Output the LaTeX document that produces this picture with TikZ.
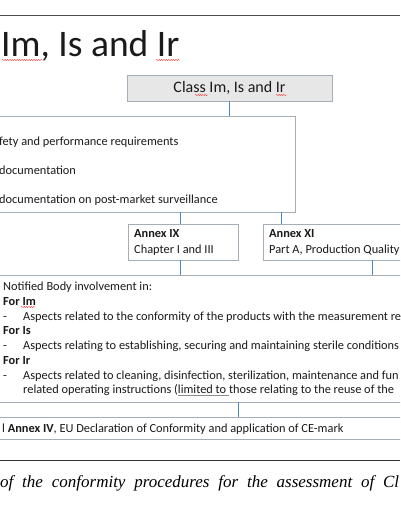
\documentclass[tikz,border=0pt]{standalone}
\usepackage{fontspec}
\setmainfont{Carlito}
\newfontfamily\capfont{Liberation Serif}
\usetikzlibrary{decorations.pathmorphing}
\definecolor{boxline}{HTML}{A5AEB8}
\definecolor{conn}{HTML}{4A86C8}
\definecolor{classfill}{HTML}{E7E7E7}
\definecolor{txtc}{HTML}{1A1A1A}
\begin{document}
\begin{tikzpicture}[x=1pt,y=-1pt,
  box/.style={draw=boxline,line width=0.9pt,inner sep=0pt},
  txt/.style={anchor=base west,inner sep=0pt,text=txtc,font=\fontsize{12.35}{14}\selectfont},
  btxt/.style={txt,font=\fontsize{12.35}{14}\selectfont\bfseries},
  link/.style={draw=conn,line width=1pt},
  spell/.style={draw=red!80,line width=0.4pt,decorate,decoration={snake,amplitude=0.6pt,segment length=2.4pt}}]
\useasboundingbox (0,0) rectangle (400,516);
\clip (0,0) rectangle (400,516);
\fill[white] (0,0) rectangle (400,516);
\draw[black!70,line width=0.8pt] (0,15) -- (400,15);
% title
\node[anchor=base west,inner sep=0pt,font=\fontsize{37.5}{40}\selectfont,text=txtc] (title) at (1,57) {Im, Is and Ir};
\draw[spell] (2,60) -- (42,60);
\draw[spell] (156,60) -- (180,60);
% class box
\node[box,fill=classfill,minimum width=205pt,minimum height=26pt,font=\fontsize{16}{18}\selectfont,text=txtc] (class) at (229.5,88) {Class Im, Is and Ir};
\draw[spell] (195,95) -- (208,95);
\draw[spell] (276,95) -- (287,95);
% requirements box
\node[box,minimum width=315pt,minimum height=96pt] (req) at (137.5,164) {};
\node[txt] (r1) at (-1,145) {fety and performance requirements};
\node[txt] (r2) at (-1,174) {documentation};
\node[txt] (r3) at (-1,203) {documentation on post-market surveillance};
% annex boxes
\node[box,minimum width=110pt,minimum height=36pt] (ix) at (183,242) {};
\node[btxt] (ixa) at (134,237) {Annex IX};
\node[txt] (ixb) at (134,253) {Chapter I and III};
\node[box,minimum width=157pt,minimum height=36pt] (xi) at (341.5,242) {};
\node[btxt] (xia) at (269,237) {Annex XI};
\node[txt] (xib) at (269,253) {Part A, Production Quality};
% notified body box
\node[box,minimum width=440pt,minimum height=127pt] (nb) at (200,338.5) {};
\node[txt] (n1) at (3,290) {Notified Body involvement in:};
\node[btxt] (n2) at (3,305) {For Im};
\node[txt] (n3d) at (3,320) {-};
\node[txt] (n3) at (23,320) {Aspects related to the conformity of the products with the measurement re};
\node[btxt] (n4) at (3,334) {For Is};
\node[txt] (n5d) at (3,349) {-};
\node[txt] (n5) at (23,349) {Aspects relating to establishing, securing and maintaining sterile conditions};
\node[btxt] (n6) at (3,364) {For Ir};
\node[txt] (n7d) at (3,379) {-};
\node[txt] (n7) at (23,379) {Aspects related to cleaning, disinfection, sterilization, maintenance and fun};
\node[txt] (n8) at (23,393) {related operating instructions (limited to those relating to the reuse of the};
\draw[spell] (21,307) -- (35,307);
\draw[black!45,line width=0.5pt] (178,395.5) -- (229,395.5);
% annex IV box
\node[box,minimum width=440pt,minimum height=22pt] (iv) at (200,428) {};
\node[txt] (iva) at (2,432) {l \textbf{Annex IV}, EU Declaration of Conformity and application of CE-mark};
% connectors
\draw[link] (class.south) -- (class.south |- req.north);
\draw[link] ([xshift=-3pt]ix.north) -- ([xshift=-3pt]ix.north |- req.south);
\draw[link] ([xshift=19pt]xi.north west) -- ([xshift=19pt]xi.north west |- req.south);
\draw[link] ([xshift=-3pt]ix.south) -- ([xshift=-3pt]ix.south |- nb.north);
\draw[link] ([xshift=110pt]xi.south west) -- ([xshift=110pt]xi.south west |- nb.north);
\draw[link] ([xshift=38pt]nb.south) -- ([xshift=38pt]nb.south |- iv.north);
% caption
\draw[black!80,line width=0.6pt] (0,460) -- (400,460);
\node[anchor=base west,inner sep=0pt,font=\capfont\itshape\fontsize{17}{20}\selectfont] (cap) at (0,487) {\makebox[399pt][s]{of the conformity procedures for the assessment of Cl}};
\end{tikzpicture}
\end{document}
